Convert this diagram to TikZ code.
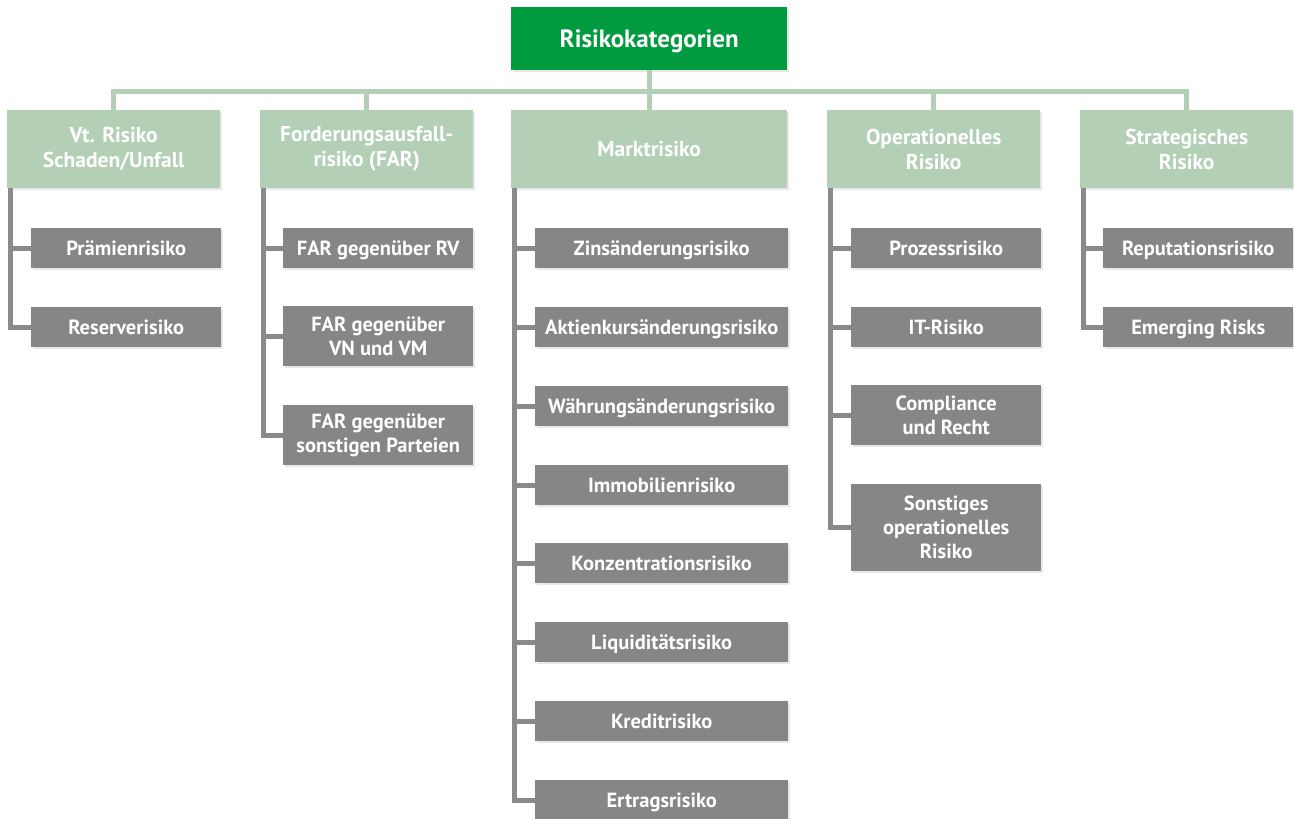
\documentclass[tikz,border=0pt]{standalone}
\usepackage{fontspec}
\setmainfont{PT Sans}
\usetikzlibrary{shadows,calc}
\definecolor{rootgreen}{HTML}{009B3E}
\definecolor{catgreen}{HTML}{B3D0B7}
\definecolor{childgray}{HTML}{868686}
\definecolor{linegray}{HTML}{8A8A8A}
\tikzset{
  boxbase/.style={anchor=north west, inner sep=0pt, text=white,
     drop shadow={opacity=0.18, shadow xshift=2pt, shadow yshift=-2pt}},
  oneline/.style={text height=#1, text depth=0pt},
  ml/.style={align=center},
  rootbox/.style={boxbase, oneline=17.5pt, fill=rootgreen, minimum width=276pt, minimum height=63pt,
     font=\bfseries\fontsize{25}{29}\selectfont},
  catbox/.style={boxbase, fill=catgreen, minimum height=78pt,
     font=\bfseries\fontsize{21.5}{25}\selectfont},
  childbox/.style={boxbase, fill=childgray, minimum height=40pt,
     font=\bfseries\fontsize{20.5}{24}\selectfont},
  onecat/.style={oneline=15pt},
  onechild/.style={oneline=14.4pt},
  busline/.style={draw=catgreen, line width=5pt},
  gline/.style={draw=linegray, line width=5pt, line join=miter},
}
\begin{document}
\begin{tikzpicture}[x=1pt,y=-1pt]
\useasboundingbox (0,0) rectangle (1294,819);
% root
\node[rootbox] (root) at (511,7) {Risikokategorien};
% categories
\node[catbox, ml, minimum width=213pt] (vt) at (7,110) {Vt. Risiko\\Schaden/Unfall};
\node[catbox, ml, minimum width=213pt] (fa) at (260,110) {Forderungsausfall-\\risiko (FAR)};
\node[catbox, onecat, minimum width=276pt] (mk) at (511,110) {Marktrisiko};
\node[catbox, ml, minimum width=213pt] (op) at (827,110) {Operationelles\\Risiko};
\node[catbox, ml, minimum width=213pt] (st) at (1080,110) {Strategisches\\Risiko};
% bus
\coordinate (bus) at (0,91);
\draw[busline] (vt.north) -- (vt.north |- bus) -- (st.north |- bus) -- (st.north);
\draw[busline] (root.south) -- (mk.north);
\draw[busline] (fa.north) -- (fa.north |- bus);
\draw[busline] (op.north) -- (op.north |- bus);
% children: Vt
\node[childbox, onechild, minimum width=190pt] (vt1) at (31,228) {Prämienrisiko};
\node[childbox, onechild, minimum width=190pt] (vt2) at (31,307) {Reserverisiko};
% FAR
\node[childbox, onechild, minimum width=190pt] (fa1) at (283,228) {FAR gegenüber RV};
\node[childbox, ml, minimum width=190pt, minimum height=60pt] (fa2) at (283,306) {FAR gegenüber\\VN und VM};
\node[childbox, ml, minimum width=190pt, minimum height=60pt] (fa3) at (283,405) {FAR gegenüber\\sonstigen Parteien};
% Markt
\node[childbox, onechild, minimum width=253pt] (mk1) at (535,228) {Zinsänderungsrisiko};
\node[childbox, onechild, minimum width=253pt] (mk2) at (535,307) {Aktienkursänderungsrisiko};
\node[childbox, onechild, minimum width=253pt] (mk3) at (535,386) {Währungsänderungsrisiko};
\node[childbox, onechild, minimum width=253pt] (mk4) at (535,465) {Immobilienrisiko};
\node[childbox, onechild, minimum width=253pt] (mk5) at (535,543) {Konzentrationsrisiko};
\node[childbox, onechild, minimum width=253pt] (mk6) at (535,622) {Liquiditätsrisiko};
\node[childbox, onechild, minimum width=253pt] (mk7) at (535,701) {Kreditrisiko};
\node[childbox, onechild, minimum width=253pt] (mk8) at (535,780) {Ertragsrisiko};
% Operationelles
\node[childbox, onechild, minimum width=190pt] (op1) at (851,228) {Prozessrisiko};
\node[childbox, onechild, minimum width=190pt] (op2) at (851,307) {IT-Risiko};
\node[childbox, ml, minimum width=190pt, minimum height=60pt] (op3) at (851,385) {Compliance\\und Recht};
\node[childbox, ml, minimum width=190pt, minimum height=87pt] (op4) at (851,484) {Sonstiges\\operationelles\\Risiko};
% Strategisches
\node[childbox, onechild, minimum width=190pt] (st1) at (1103,228) {Reputationsrisiko};
\node[childbox, onechild, minimum width=190pt] (st2) at (1103,307) {Emerging Risks};
% gray connectors
\foreach \c/\k in {vt/vt1,vt/vt2,fa/fa1,fa/fa2,fa/fa3,mk/mk1,mk/mk2,mk/mk3,mk/mk4,mk/mk5,mk/mk6,mk/mk7,mk/mk8,op/op1,op/op2,op/op3,op/op4,st/st1,st/st2}
  \draw[gline] ([xshift=3pt]\c.south west) |- (\k.west);
\end{tikzpicture}
\end{document}
